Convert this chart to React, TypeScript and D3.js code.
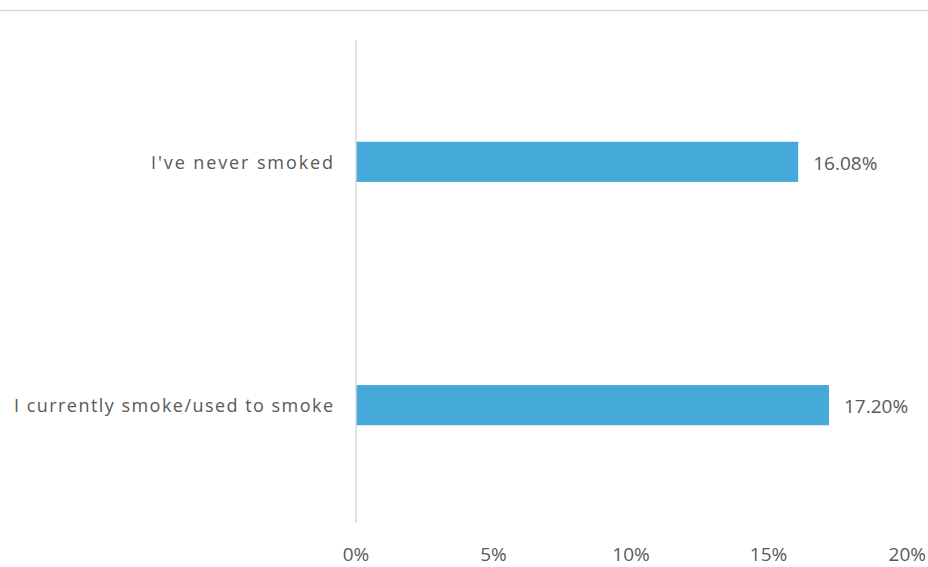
import React from "react";
import * as d3 from "d3";

const categories = ["I've never smoked", "I currently smoke/used to smoke"];
const values = [16.08, 17.2];
const tickValues = [0, 5, 10, 15, 20];
const labelWidths = [182, 319];

const W = 928;
const H = 567;
const margin = { left: 356, right: 22, top: 40, bottom: 44 };

export default function App() {
  const x = d3.scaleLinear().domain([0, 20]).range([margin.left, W - margin.right]);
  const y = d3
    .scaleBand()
    .domain(categories)
    .range([margin.top + 2, H - margin.bottom + 2])
    .paddingInner(0.835)
    .paddingOuter(0.41);
  const font = "'Open Sans', Lato, sans-serif";
  const textColor = "#595959";
  return (
    <svg
      width={W}
      height={H}
      style={{ position: "absolute", left: 0, top: 0, background: "#fff" }}
      fontFamily={font}
    >
      <line x1={0} x2={W} y1={10.5} y2={10.5} stroke="#d9d9d9" strokeWidth={1.5} />
      {categories.map((c, i) => (
        <g key={c}>
          <rect
            x={x(0)}
            y={y(c)}
            width={x(values[i]) - x(0)}
            height={y.bandwidth()}
            fill="#45a9da"
          />
          <text
            x={333}
            y={(y(c) as number) + y.bandwidth() / 2}
            textAnchor="end"
            dominantBaseline="central"
            fontSize={18}
            fill={textColor}
            textLength={labelWidths[i]}
            lengthAdjust="spacing"
          >
            {c}
          </text>
          <text
            x={x(values[i]) + 15}
            y={(y(c) as number) + y.bandwidth() / 2 + 1}
            dominantBaseline="central"
            fontSize={19}
            fill={textColor}
          >
            {values[i].toFixed(2)}%
          </text>
        </g>
      ))}
      <line
        x1={x(0)}
        x2={x(0)}
        y1={margin.top}
        y2={H - margin.bottom}
        stroke="#d9d9d9"
        strokeWidth={1.5}
      />
      {tickValues.map((t) => (
        <text
          key={t}
          x={x(t)}
          y={554}
          textAnchor={t === 20 ? "end" : "middle"}
          dx={t === 20 ? 20 : 0}
          dominantBaseline="central"
          fontSize={19}
          fill={textColor}
        >
          {t}%
        </text>
      ))}
    </svg>
  );
}
